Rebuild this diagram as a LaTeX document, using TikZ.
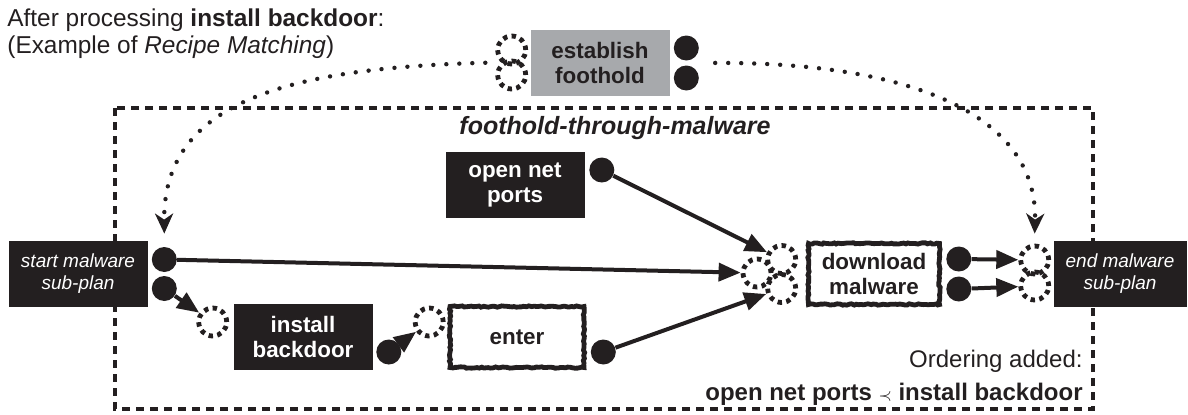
\documentclass[tikz,border=0pt]{standalone}
\usepackage{fontspec}
\setmainfont{Liberation Sans}
\usetikzlibrary{positioning, calc, arrows.meta, decorations.pathmorphing}

\definecolor{boxblack}{HTML}{231F20}
\definecolor{goalgray}{HTML}{A7A9AC}

\begin{document}
\begin{tikzpicture}[x=0.5pt, y=-0.5pt]
    % Styles
    \tikzset{
        act/.style={rectangle, fill=boxblack, text=white, minimum width=69.5pt, minimum height=33pt, inner sep=2pt, align=center, font=\fontsize{11.2}{12.5}\selectfont\bfseries},
        plan/.style={act, font=\fontsize{9.5}{11}\selectfont\itshape},
        sketchy/.style={act, fill=white, text=boxblack, draw=boxblack, line width=2.4pt, minimum width=67pt, minimum height=30.5pt,
            decorate, decoration={random steps, segment length=1.2pt, amplitude=0.35pt}},
        goal/.style={act, fill=goalgray, text=boxblack},
        out_port/.style={circle, fill=boxblack, minimum size=12.5pt, inner sep=0pt},
        in_port/.style={circle, draw=boxblack, line width=2.4pt, dash pattern=on 2.2pt off 2.2pt, minimum size=14pt, inner sep=0pt},
        link/.style={draw=boxblack, line width=2pt, -{Triangle[length=11pt, width=9pt]}},
        recipe/.style={draw=boxblack, line width=2.2pt, line cap=round, dash pattern=on 0pt off 6.5pt, -{Stealth[length=10pt, width=9pt, inset=3pt]}},
        subplan/.style={draw=boxblack, line width=2pt, dash pattern=on 4pt off 3pt},
        note/.style={text=boxblack, font=\fontsize{12.2}{13.5}\selectfont, inner sep=0pt}
    }
    \useasboundingbox (0,0) rectangle (1188,414);

    % --- Sub-plan frame ---
    \draw[subplan] (115,108) rectangle (1093,409);

    % --- Nodes ---

    % Caption
    \node[note, anchor=north west, align=left] (caption) at (7,8) {After processing \textbf{install backdoor}:\\(Example of \textit{Recipe Matching})};

    % Goal being refined
    \node[goal] (goal) at (600,63) {establish\\foothold};
    \node[in_port, left=1pt of goal.west, yshift=6.5pt] (g_in1) {};
    \node[in_port, left=1pt of goal.west, yshift=-6pt] (g_in2) {};
    \node[out_port, right=1.75pt of goal.east, yshift=7.5pt] (g_out1) {};
    \node[out_port, right=1.75pt of goal.east, yshift=-7.5pt] (g_out2) {};

    % Recipe name
    \node[text=boxblack, font=\fontsize{12.5}{14}\selectfont\bfseries\itshape] (recipe_name) at (615,128) {foothold-through-malware};

    % Start and end of the sub-plan
    \node[plan] (start) at (78,274) {start malware\\sub-plan};
    \node[out_port, right=1.75pt of start.east, yshift=7.25pt] (s_out1) {};
    \node[out_port, right=1.75pt of start.east, yshift=-7.25pt] (s_out2) {};

    \node[plan, minimum width=66.5pt] (end) at (1120,274) {end malware\\sub-plan};
    \node[in_port, left=1pt of end.west, yshift=7pt] (n_in1) {};
    \node[in_port, left=1pt of end.west, yshift=-6pt] (n_in2) {};

    % Steps
    \node[act] (ports) at (515,185) {open net\\ports};
    \node[out_port, right=2pt of ports.east, yshift=7.5pt] (p_out) {};

    \node[act] (install) at (303,337) {install\\backdoor};
    \node[in_port, left=2pt of install.west, yshift=7.5pt] (i_in) {};
    \node[out_port, right=1.5pt of install.east, yshift=-7.5pt] (i_out) {};

    \node[sketchy] (enter) at (517,337) {enter};
    \node[in_port, left=1pt of enter.west, yshift=7.5pt] (e_in) {};
    \node[out_port, right=2pt of enter.east, yshift=-7.5pt] (e_out) {};

    \node[sketchy, minimum width=65.5pt] (download) at (874,274) {download\\malware};
    \node[in_port, left=4pt of download.west, yshift=7.25pt] (d_in1) {};
    \node[in_port, left=4pt of download.west, yshift=-7.25pt] (d_in3) {};
    \node[in_port] (d_in2) at (757,273) {};
    \node[out_port, right=2pt of download.east, yshift=7.5pt] (d_out1) {};
    \node[out_port, right=2pt of download.east, yshift=-7.5pt] (d_out2) {};

    % Ordering note
    \node[note, anchor=south east, align=right, font=\fontsize{12}{16.5}\selectfont] (order) at (1083,406) {Ordering added:\\\textbf{open net ports {\normalfont\footnotesize$\prec$} install backdoor}};

    % --- Connections ---
    \draw[link] (s_out1) -- (d_in2);
    \draw[link] (s_out2) -- (i_in);
    \draw[link] (i_out) -- (e_in);
    \draw[link] (p_out) -- (d_in1);
    \draw[link] (e_out) -- (d_in3);
    \draw[link] (d_out1) -- (n_in1);
    \draw[link] (d_out2) -- (n_in2);

    % Recipe matching: goal ports to sub-plan ends
    \coordinate[above=6.5pt of s_out1] (s_drop);
    \coordinate[above=5pt of n_in1] (n_drop);
    \draw[recipe, shorten <=5pt] ($(g_in1.west)!0.5!(g_in2.west)$) .. controls (280,68) and (163,105) .. (s_drop);
    \draw[recipe, shorten <=8pt] ($(g_out1.east)!0.5!(g_out2.east)$) .. controls (900,62) and (1038,110) .. (n_drop);

\end{tikzpicture}
\end{document}
